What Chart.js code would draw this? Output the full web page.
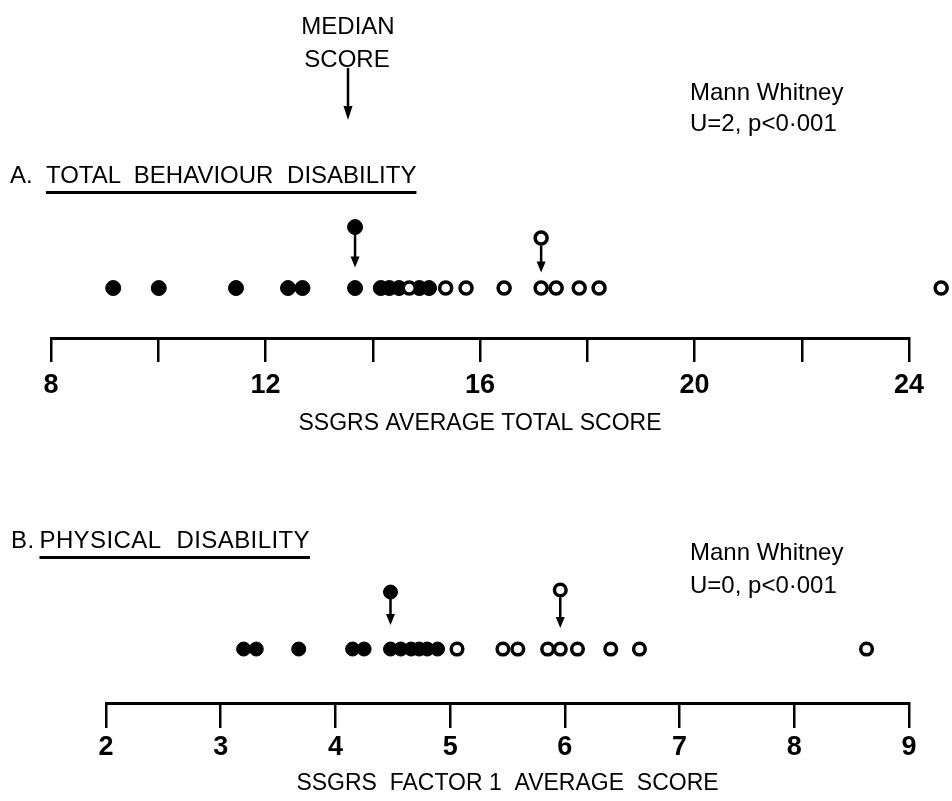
<!DOCTYPE html>
<html><head><meta charset="utf-8">
<script src="https://cdn.jsdelivr.net/npm/chart.js@4.4.1/dist/chart.umd.min.js"></script>
<style>
html,body{margin:0;padding:0;background:#fff;}
#page{position:relative;width:952px;height:801px;overflow:hidden;font-family:"Liberation Sans",Arial,sans-serif;color:#000;}
.t{position:absolute;font-size:24px;line-height:24px;white-space:nowrap;}
.wrap{position:absolute;left:0;width:952px;}
.ul{text-decoration:underline;text-decoration-thickness:3px;text-underline-offset:8px;}
</style></head><body>
<div id="page">
 <div class="wrap" style="top:0;height:440px"><canvas id="cA" width="952" height="440"></canvas></div>
 <div class="wrap" style="top:440px;height:361px"><canvas id="cB" width="952" height="361"></canvas></div>

 <div class="t" style="left:298px;top:14px;width:100px;text-align:center">MEDIAN</div>
 <div class="t" style="left:297px;top:47px;width:100px;text-align:center">SCORE</div>
 <svg style="position:absolute;left:0;top:0" width="952" height="140">
   <line x1="348" y1="68" x2="348" y2="108" stroke="#000" stroke-width="2.5"/>
   <polygon points="343.5,106 352.5,106 348,120" fill="#000"/>
 </svg>

 <div class="t" style="left:690px;top:80px">Mann Whitney</div>
 <div class="t" style="left:690px;top:111px">U=2, p&lt;0·001</div>
 <div class="t" style="left:10px;top:163px;word-spacing:7px">A. <span class="ul">TOTAL BEHAVIOUR DISABILITY</span></div>

 <div class="t" style="left:690px;top:540px">Mann Whitney</div>
 <div class="t" style="left:690px;top:573px">U=0, p&lt;0·001</div>
 <div class="t" style="left:11px;top:528px;word-spacing:9px;letter-spacing:0.4px"><span style="word-spacing:0">B.</span><span class="ul" style="margin-left:5px">PHYSICAL DISABILITY</span></div>
</div>
<script>
// ---- data ----
const totalScoreFilled = [9.16, 10.01, 11.45, 12.42, 12.69, 13.67, 14.15, 14.31, 14.49, 14.87, 15.05];
const totalScoreOpen   = [14.68, 15.36, 15.74, 16.45, 17.14, 17.42, 17.85, 18.22, 24.60];
const factor1Filled    = [3.20, 3.31, 3.68, 4.15, 4.25, 4.48, 4.57, 4.66, 4.73, 4.80, 4.89];
const factor1Open      = [5.06, 5.46, 5.59, 5.85, 5.96, 6.11, 6.40, 6.65, 8.63];
const ticksA = [8, 12, 16, 20, 24];
const ticksB = [2, 3, 4, 5, 6, 7, 8, 9];
const titleA = 'SSGRS AVERAGE TOTAL SCORE';
const titleB = 'SSGRS  FACTOR 1  AVERAGE  SCORE';

function median(a){ const s=[...a].sort((p,q)=>p-q); const n=s.length; return n%2 ? s[(n-1)/2] : (s[n/2-1]+s[n/2])/2; }

const FONT = '"Liberation Sans", Arial, sans-serif';
const INK = '#000';

const arrowPlugin = {
  id: 'medArrows',
  afterDatasetsDraw(chart) {
    const {ctx, chartArea, scales:{x, y}} = chart;
    // points that fall beyond the axis end (outliers) are drawn without area clipping
    chart.data.datasets.forEach((ds, i) => {
      const meta = chart.getDatasetMeta(i);
      meta.data.forEach(el => {
        if (el && (el.x > chartArea.right + 0.5 || el.x < chartArea.left - 0.5)) el.draw(ctx);
      });
    });
    const arrows = chart.options.plugins.medArrows.items;
    ctx.save();
    ctx.strokeStyle = INK; ctx.fillStyle = INK; ctx.lineWidth = 2.5;
    arrows.forEach(a => {
      const px = x.getPixelForValue(a.value);
      const y0 = y.getPixelForValue(a.from) + a.r;
      const y1 = y.getPixelForValue(a.to);
      ctx.beginPath(); ctx.moveTo(px, y0); ctx.lineTo(px, y1 - 9); ctx.stroke();
      ctx.beginPath(); ctx.moveTo(px - 4.5, y1 - 11); ctx.lineTo(px + 4.5, y1 - 11); ctx.lineTo(px, y1); ctx.closePath(); ctx.fill();
    });
    ctx.restore();
  }
};

function makePanel(id, filled, open, cfg) {
  const mf = median(filled), mo = median(open);
  const filledStyle = {backgroundColor: INK, borderColor: INK, borderWidth: 1, pointRadius: cfg.rf, pointHoverRadius: cfg.rf};
  const openStyle = {backgroundColor: '#fff', borderColor: INK, borderWidth: 3.5, pointRadius: cfg.ro, pointHoverRadius: cfg.ro};
  return new Chart(document.getElementById(id), {
    type: 'scatter',
    data: { datasets: [
      Object.assign({label:'filled', order: 3, clip: false, data: filled.map(v => ({x: v, y: cfg.row}))}, filledStyle),
      Object.assign({label:'open', order: 2, clip: false, data: open.map(v => ({x: v, y: cfg.row}))}, openStyle),
      Object.assign({label:'filled median', order: 1, clip: false, data: [{x: mf, y: cfg.mkF}]}, filledStyle),
      Object.assign({label:'open median', order: 1, clip: false, data: [{x: mo, y: cfg.mkO}]}, openStyle)
    ]},
    options: {
      responsive: false, animation: false, events: [],
      layout: {padding: {left: cfg.left, right: cfg.right, top: cfg.top, bottom: 0}},
      plugins: {legend: {display: false}, tooltip: {enabled: false},
        medArrows: {items: [
          {value: mf, from: cfg.mkF, to: cfg.tipF, r: cfg.rf},
          {value: mo, from: cfg.mkO, to: cfg.tipO, r: cfg.ro + 1.5}
        ]}},
      scales: {
        y: {display: false, min: 0, max: 1},
        x: {
          type: 'linear', position: 'bottom', min: cfg.ticks[0], max: cfg.ticks[cfg.ticks.length-1],
          afterFit: s => { s.height = cfg.scaleH; },
          border: {display: true, color: INK, width: 3},
          grid: {drawOnChartArea: false, drawTicks: true, tickLength: cfg.tickLen, color: INK, lineWidth: 2.5},
          ticks: {stepSize: cfg.step, autoSkip: false, maxRotation: 0, padding: cfg.tickPad, color: INK,
                  font: {family: FONT, size: 27, weight: 'bold'},
                  callback: v => cfg.ticks.includes(v) ? String(v) : ''},
          title: {display: true, text: cfg.title, color: INK, font: {family: FONT, size: 23}, padding: {top: 0, bottom: cfg.titlePad}}
        }
      }
    },
    plugins: [arrowPlugin]
  });
}

makePanel('cA', totalScoreFilled, totalScoreOpen, {
  ticks: ticksA, step: 2, title: titleA, left: 51, right: 43, top: 200, scaleH: 102,
  tickLen: 24, tickPad: 7, titlePad: 3, row: 0.362, mkF: 0.804, tipF: 0.51, mkO: 0.725, tipO: 0.475, rf: 7.5, ro: 6
});
makePanel('cB', factor1Filled, factor1Open, {
  ticks: ticksB, step: 1, title: titleB, left: 106, right: 43, top: 125, scaleH: 98,
  tickLen: 25, tickPad: 3, titlePad: 4, row: 0.391, mkF: 0.804, tipF: 0.565, mkO: 0.819, tipO: 0.543, rf: 7, ro: 5.8
});
</script>
</body></html>
